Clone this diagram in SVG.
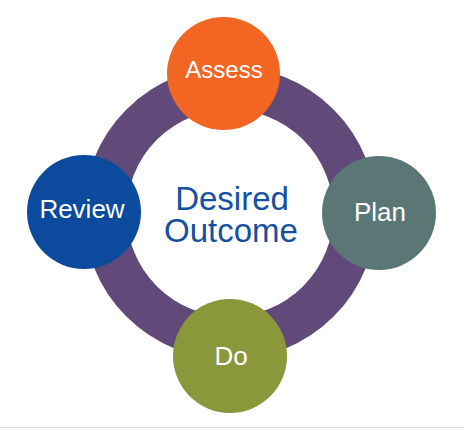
<svg xmlns="http://www.w3.org/2000/svg" width="464" height="430" viewBox="0 0 464 430">
<style>
.lbl{font-family:"Liberation Sans",Arial,sans-serif;fill:#ffffff;text-anchor:middle;font-size:26px}
.ctr{font-family:"Liberation Sans",Arial,sans-serif;fill:#1650A0;text-anchor:middle;font-size:33px}
</style>
<rect width="464" height="430" fill="#ffffff"/>
<g id="connectors">
<circle cx="230" cy="213" r="125" fill="none" stroke="#614A7A" stroke-width="43"/>
</g>
<g id="center">
<text class="ctr" x="232" y="210">Desired</text>
<text class="ctr" x="231" y="242">Outcome</text>
</g>
<g id="assess">
<circle cx="223.5" cy="73.5" r="56.5" fill="#F26522"/>
<text class="lbl" x="224" y="78" style="font-size:24px">Assess</text>
</g>
<g id="plan">
<circle cx="379" cy="213" r="57" fill="#5A7775"/>
<text class="lbl" x="380" y="221">Plan</text>
</g>
<g id="review">
<circle cx="84" cy="212" r="57" fill="#0B4A9C"/>
<text class="lbl" x="82" y="218">Review</text>
</g>
<g id="do">
<circle cx="230" cy="356" r="57" fill="#8A973A"/>
<text class="lbl" x="231" y="365">Do</text>
</g>
<line x1="0" y1="427.5" x2="464" y2="427.5" stroke="#dddddd" stroke-width="1"/>
</svg>
